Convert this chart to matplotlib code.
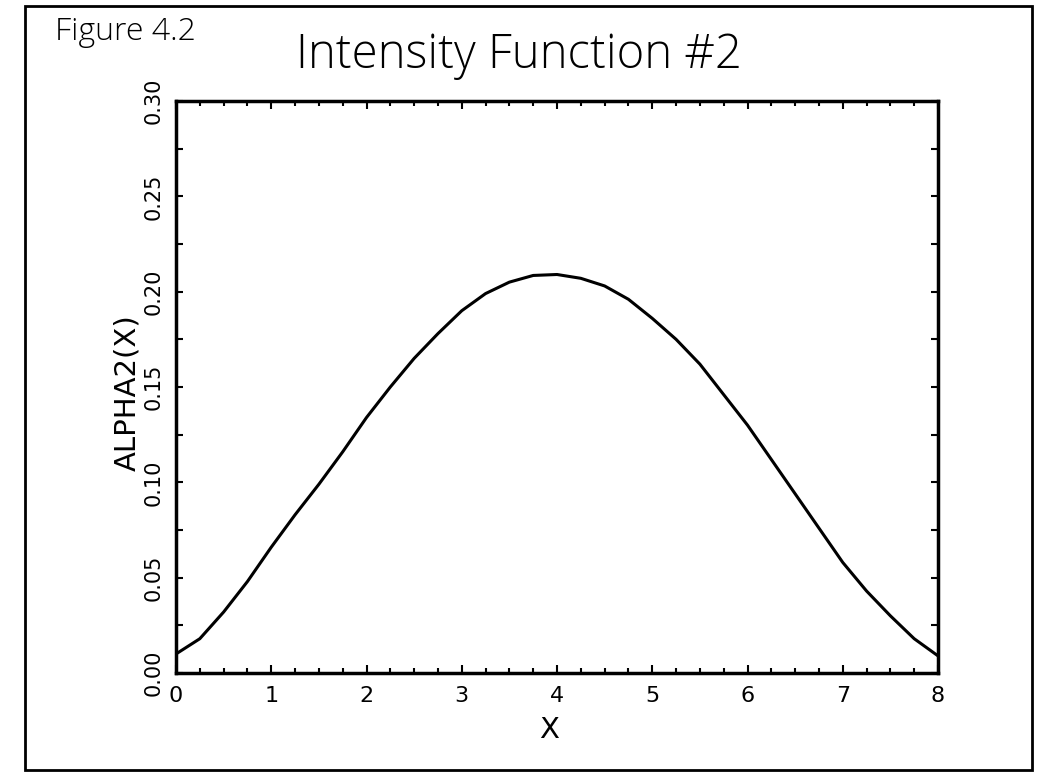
import numpy as np
import matplotlib
matplotlib.use("Agg")
import matplotlib.pyplot as plt
from matplotlib.patches import Rectangle
from matplotlib.ticker import MultipleLocator, FormatStrFormatter

# values
x_vals = [0.0, 0.25, 0.5, 0.75, 1.0, 1.25, 1.5, 1.75, 2.0, 2.25, 2.5, 2.75,
          3.0, 3.25, 3.5, 3.75, 4.0, 4.25, 4.5, 4.75, 5.0, 5.25, 5.5, 5.75,
          6.0, 6.25, 6.5, 6.75, 7.0, 7.25, 7.5, 7.75, 8.0]
alpha2 = [0.010, 0.018, 0.032, 0.048, 0.066, 0.083, 0.099, 0.116, 0.134,
          0.150, 0.165, 0.178, 0.190, 0.199, 0.205, 0.2085, 0.209, 0.207,
          0.203, 0.196, 0.186, 0.175, 0.162, 0.146, 0.130, 0.112, 0.094,
          0.076, 0.058, 0.043, 0.030, 0.018, 0.009]

fig = plt.figure(figsize=(10.39, 7.72), dpi=100)
ax = fig.add_axes([0.1694, 0.1282, 0.7334, 0.741])

ax.plot(x_vals, alpha2, color='black', lw=2.2, solid_joinstyle='round')
ax.set_xlim(0, 8)
ax.set_ylim(0, 0.30)

ax.xaxis.set_major_locator(MultipleLocator(1))
ax.xaxis.set_minor_locator(MultipleLocator(0.25))
ax.yaxis.set_major_locator(MultipleLocator(0.05))
ax.yaxis.set_minor_locator(MultipleLocator(0.025))
ax.yaxis.set_major_formatter(FormatStrFormatter('%.2f'))

ax.tick_params(which='both', direction='in', top=True, right=True, width=1.5)
ax.tick_params(axis='x', which='major', length=6, pad=9, labelsize=16)
ax.tick_params(axis='x', which='minor', length=3.5)
ax.tick_params(axis='y', which='both', length=5, pad=9, labelsize=15)
for lbl in ax.get_yticklabels():
    lbl.set_rotation(90)
    lbl.set_va('center')

for s in ax.spines.values():
    s.set_linewidth(2.5)

ax.set_xlabel('X', fontsize=21)
ax.xaxis.set_label_coords(0.49, -0.075)
ax.set_ylabel('ALPHA2(X)', fontsize=21)
ax.yaxis.set_label_coords(-0.045, 0.49)

thin = ['Open Sans', 'DejaVu Sans']
fig.text(0.053, 0.948, 'Figure 4.2', fontsize=23, va='baseline', ha='left',
         family=thin, weight='light')
fig.text(0.499, 0.912, 'Intensity Function #2', fontsize=34, va='baseline',
         ha='center', family=thin, weight='light')

# outer frame of the page
fig.patches.append(Rectangle((0.024, 0.003), 0.969, 0.989, transform=fig.transFigure,
                             fill=False, lw=2, edgecolor='black'))

plt.savefig('out.png', dpi=100)
